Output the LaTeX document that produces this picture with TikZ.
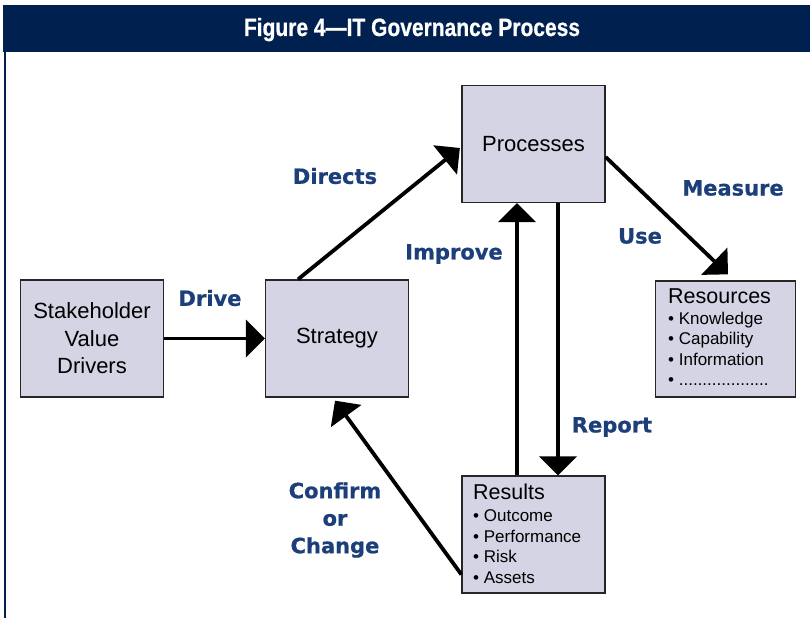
\documentclass[tikz,border=0pt]{standalone}
\usepackage{fontspec}
\setmainfont{Liberation Sans}
\newfontfamily\titlefam[FakeStretch=0.84, BoldFeatures={FakeBold=0.6}]{Liberation Sans}
\newfontfamily\lblfam[BoldFeatures={FakeBold=0.7}]{DejaVu Sans}
\usetikzlibrary{arrows.meta,calc}
\definecolor{navy}{RGB}{0,33,80}
\definecolor{lblblue}{RGB}{28,63,122}
\definecolor{boxfill}{RGB}{212,212,228}
\tikzset{
  box/.style={draw=black!85, fill=boxfill, line width=1.3bp, minimum width=143bp,
    minimum height=117bp, inner sep=0pt, align=center,
    font=\fontsize{22bp}{27.5bp}\selectfont},
  listhead/.style={anchor=base west, inner sep=0pt, font=\fontsize{21.5bp}{26bp}\selectfont},
  listitem/.style={anchor=base west, inner sep=0pt, font=\fontsize{17bp}{20bp}\selectfont},
  lbl/.style={text=lblblue, inner sep=0pt, align=center,
    font=\lblfam\bfseries\fontsize{21bp}{27.5bp}\selectfont},
  arr/.style={line width=3.8bp, -{Triangle[length=19bp,width=37bp]}}
}
\begin{document}
\begin{tikzpicture}[x=1bp,y=-1bp]
\useasboundingbox (0,0) rectangle (810,618);
% frame
\fill[navy] (3,5) rectangle (810,52);
\draw[navy, line width=2.6bp] (5,52) -- (5,618);
\node[anchor=base, text=white, inner sep=0pt, font=\titlefam\bfseries\fontsize{25bp}{30bp}\selectfont] (title) at (412,36) {Figure 4—IT Governance Process};
% boxes
\node[box] (sh) at (92,338.5) {Stakeholder\\Value\\Drivers};
\node[box] (str) at (337,338.5) {Strategy};
\node[box] (proc) at (533.5,144) {Processes};
\node[box, minimum width=140bp, minimum height=116bp] (rsc) at (725.5,339) {};
\node[box] (rst) at (533.5,534.5) {};
% list texts
\node[listhead] (rscH) at (668,303) {Resources};
\node[listitem] (rsc1) at (668,324) {• Knowledge};
\node[listitem] (rsc2) at (668,344.5) {• Capability};
\node[listitem] (rsc3) at (668,365) {• Information};
\node[listitem] (rsc4) at (668,385.5) {• ...................};
\node[listhead] (rstH) at (473,499.5) {Results};
\node[listitem] (rst1) at (473,521) {• Outcome};
\node[listitem] (rst2) at (473,542) {• Performance};
\node[listitem] (rst3) at (473,562.5) {• Risk};
\node[listitem] (rst4) at (473,583) {• Assets};
% arrows
\draw[arr] (sh) -- (str);
\draw[arr] ($(str.north)+(-39,0)$) -- ($(proc.west)+(-1.5,4)$);
\draw[arr] ($(proc.east)+(0,13)$) -- ($(rsc.north)+(2.5,-6)$);
\draw[arr] ($(rst.north)+(-16.5,0)$) -- ($(proc.south)+(-16.5,0)$);
\draw[arr] ($(proc.south)+(24.5,0)$) -- ($(rst.north)+(24.5,0)$);
\draw[arr] ($(rst.west)+(0,40)$) -- ($(str.south)+(-2,3)$);
% labels
\node[lbl] (lDrive) at (210,298) {Drive};
\node[lbl] (lDirects) at (335,176) {Directs};
\node[lbl] (lMeasure) at (733,188) {Measure};
\node[lbl] (lUse) at (640,236) {Use};
\node[lbl] (lImprove) at (454,254) {Improve};
\node[lbl] (lReport) at (612,427) {Report};
\node[lbl] (lConfirm) at (335,520) {Confirm\\or\\Change};
\end{tikzpicture}
\end{document}
